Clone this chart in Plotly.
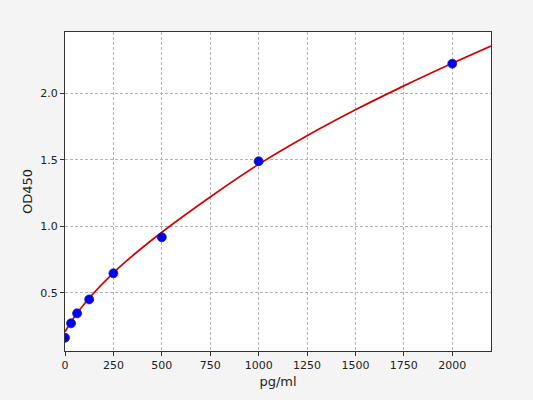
import plotly.graph_objects as go

# standard points
conc = [0, 31.25, 62.5, 125, 250, 500, 1000, 2000]
od = [0.162, 0.27, 0.345, 0.45, 0.646, 0.917, 1.488, 2.222]

# fitted curve
curve_x = [0, 31.25, 62.5, 125, 250, 375, 500, 750, 1000, 1250, 1500, 1750, 2000, 2200]
curve_y = [0.207, 0.28, 0.345, 0.46, 0.65, 0.81, 0.955, 1.22, 1.465, 1.68, 1.875, 2.055, 2.225, 2.355]

xticks = [0, 250, 500, 750, 1000, 1250, 1500, 1750, 2000]
yticks = [0.5, 1.0, 1.5, 2.0]

fig = go.Figure()
fig.add_trace(go.Scatter(
    x=curve_x, y=curve_y, mode="lines", line_shape="spline",
    line=dict(color="#d40000", width=1.7),
))
fig.add_trace(go.Scatter(
    x=conc, y=od, mode="markers",
    marker=dict(color="#0000ee", size=9, line=dict(color="#1a1aaa", width=0.8)),
))

axis_common = dict(
    showline=True, mirror=True, linecolor="#333333", linewidth=1,
    ticks="outside", ticklen=4, tickcolor="#333333",
    showgrid=True, gridcolor="#b5b5b5", griddash="3px,2px", gridwidth=0.8,
    zeroline=False, tickfont=dict(size=11, color="#222222"),
)

fig.update_layout(
    width=533, height=400,
    paper_bgcolor="#f4f4f4", plot_bgcolor="white",
    font=dict(family="DejaVu Sans", size=11, color="#222222"),
    showlegend=False,
    margin=dict(l=65, r=42, t=32, b=49),
    xaxis=dict(axis_common, range=[0, 2200], tickvals=xticks,
               title=dict(text="pg/ml", standoff=5)),
    yaxis=dict(axis_common, range=[0.062, 2.46], tickvals=yticks, tickformat=".1f",
               title=dict(text="OD450", standoff=4)),
)

fig.write_html("out.html", config={"displayModeBar": False},
               post_script="document.body.style.margin='0';document.body.style.background='#f4f4f4';")
